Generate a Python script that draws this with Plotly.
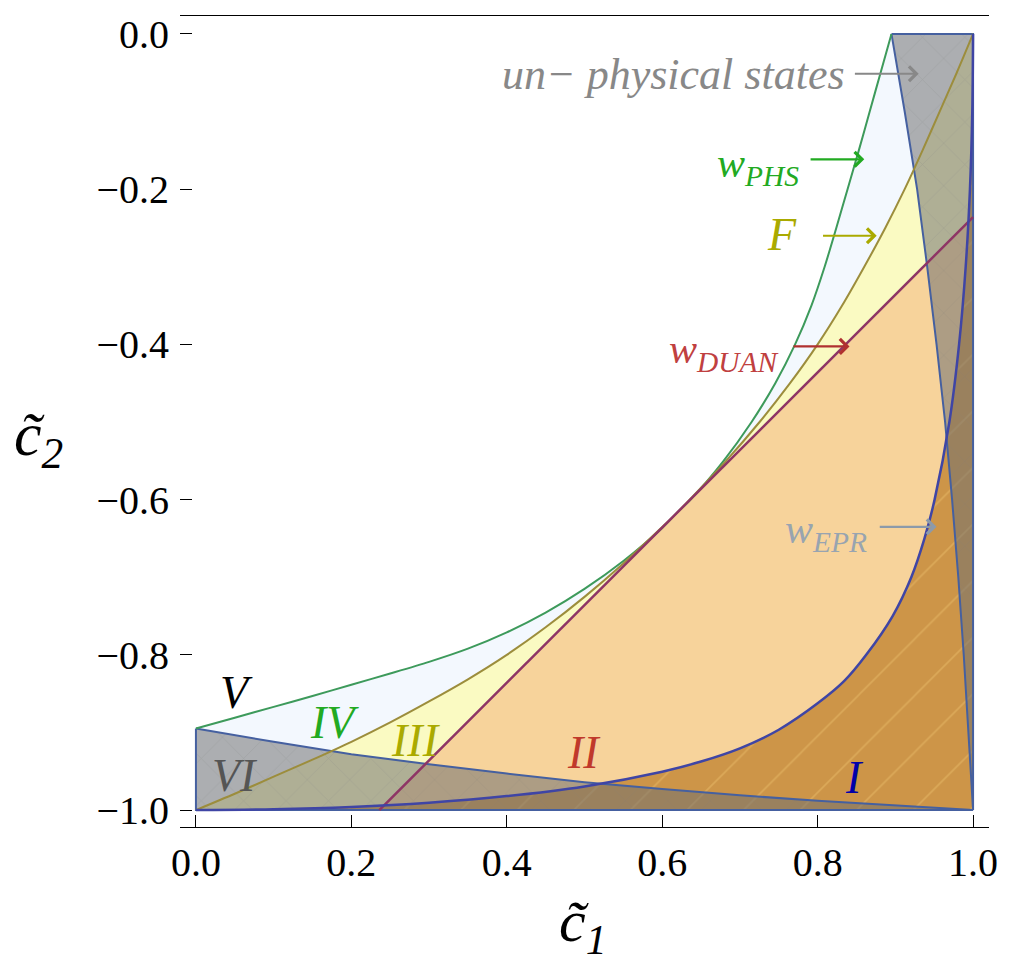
import plotly.graph_objects as go

# ---------------- data ----------------
# w_PHS boundary (green)
c1_phs = [0.000, 0.05, 0.10, 0.15, 0.20, 0.25, 0.30, 0.35, 0.40, 0.45, 0.50, 0.55, 0.60, 0.618,
          0.6365, 0.679, 0.715, 0.7455, 0.771, 0.792, 0.809, 0.824, 0.8385, 0.853, 0.867, 0.881, 0.895]
c2_phs = [-0.895, -0.881, -0.867, -0.853, -0.8385, -0.824, -0.809, -0.792, -0.771, -0.7455, -0.715, -0.679, -0.6365, -0.618,
          -0.60, -0.55, -0.50, -0.45, -0.40, -0.35, -0.30, -0.25, -0.20, -0.15, -0.10, -0.05, 0.0]

# F boundary (olive)
c1_f = [0.00, 0.05, 0.10, 0.15, 0.20, 0.25, 0.30, 0.35, 0.40, 0.45, 0.50, 0.55, 0.60, 0.618,
        0.6353, 0.6822, 0.7253, 0.7645, 0.800, 0.8315, 0.860, 0.887, 0.912, 0.935, 0.957, 0.979, 1.00]
c2_f = [-1.000, -0.979, -0.957, -0.935, -0.912, -0.887, -0.860, -0.8315, -0.800, -0.7645, -0.7253, -0.6822, -0.6353, -0.618,
        -0.60, -0.55, -0.50, -0.45, -0.40, -0.35, -0.30, -0.25, -0.20, -0.15, -0.10, -0.05, 0.0]

# w_DUAN (straight line)
c1_duan = [0.236, 1.0]
c2_duan = [-1.0, -0.236]

# w_EPR boundary (blue)
c1_epr = [0.00, 0.10, 0.20, 0.30, 0.40, 0.50, 0.60, 0.65, 0.70, 0.75, 0.80, 0.834,
          0.8625, 0.8965, 0.9205, 0.9375, 0.9505, 0.9695, 0.982, 0.9905, 0.996, 0.999, 1.0]
c2_epr = [-1.000, -0.999, -0.996, -0.9905, -0.982, -0.9695, -0.9505, -0.9375, -0.9205, -0.8965, -0.8625, -0.834,
          -0.80, -0.75, -0.70, -0.65, -0.60, -0.50, -0.40, -0.30, -0.20, -0.10, 0.0]

# un-physical boundaries
c1_unph_low = [0.00, 0.10, 0.20, 0.30, 0.40, 0.50, 0.60, 0.70, 0.80, 0.90, 1.00]
c2_unph_low = [-0.895, -0.912, -0.928, -0.941, -0.953, -0.964, -0.973, -0.981, -0.988, -0.994, -1.00]
c1_unph_high = [0.895, 0.912, 0.928, 0.941, 0.953, 0.964, 0.973, 0.981, 0.988, 0.994, 1.00]
c2_unph_high = [0.0, -0.10, -0.20, -0.30, -0.40, -0.50, -0.60, -0.70, -0.80, -0.90, -1.00]

tick_vals = [0.0, 0.2, 0.4, 0.6, 0.8, 1.0]
ytick_vals = [0.0, -0.2, -0.4, -0.6, -0.8, -1.0]

region_labels = ["I", "II", "III", "IV", "V", "VI"]
region_x = [0.848, 0.499, 0.283, 0.178, 0.0525, 0.050]
region_y = [-0.958, -0.926, -0.910, -0.887, -0.849, -0.956]
region_colors = ["#0000AA", "#C0392B", "#AAAA00", "#22AA22", "#000000", "#555555"]

# ---------------- figure ----------------
SERIF = "Liberation Serif"
fig = go.Figure()

def poly(xs, ys, fill, line=None, width=0, pattern=None):
    kw = dict(x=xs, y=ys, mode="lines", fill="toself", fillcolor=fill,
              line=dict(color=line if line else "rgba(0,0,0,0)", width=width),
              hoverinfo="skip", showlegend=False)
    if pattern:
        kw["fillpattern"] = pattern
    fig.add_trace(go.Scatter(**kw))

# region fills (painter's order)
poly(c1_phs + [1.0, 1.0, 0.0], c2_phs + [0.0, -1.0, -1.0], "#F3F8FE")
poly(c1_f + [1.0], c2_f + [-1.0], "#FAFAC2")
poly(c1_duan + [1.0], c2_duan + [-1.0], "#F7D39B")
poly(c1_epr + [1.0], c2_epr + [-1.0], "#CD9548",
     pattern=dict(shape="/", size=40, solidity=0.04, fgcolor="rgba(245,205,120,0.7)", bgcolor="#CD9548"))

# un-physical regions
gray = "rgba(112,112,112,0.55)"
pat = dict(shape="x", size=30, solidity=0.04, fgcolor="rgba(120,120,120,0.45)", bgcolor=gray)
poly(c1_unph_low + [0.0, 0.0], c2_unph_low + [-1.0, -0.895], gray, line="#4560A0", width=2, pattern=pat)
poly(c1_unph_high + [1.0, 0.895], c2_unph_high + [0.0, 0.0], gray, line="#4560A0", width=2, pattern=pat)

# boundary lines
def line(xs, ys, color, w=2, shape="spline"):
    fig.add_trace(go.Scatter(x=xs, y=ys, mode="lines",
                             line=dict(color=color, width=w, shape=shape, smoothing=0.8),
                             hoverinfo="skip", showlegend=False))

line(c1_phs, c2_phs, "#3D9A5B")
line(c1_f, c2_f, "#9C8D3C")
line(c1_duan, c2_duan, "#8E3565", 2.5, "linear")
line(c1_epr, c2_epr, "#3F45A5", 2.5)

# annotations with arrows
def arrow(x0, x1, y, color):
    fig.add_annotation(x=x1, y=y, ax=x0, ay=y, xref="x", yref="y", axref="x", ayref="y",
                       text="", showarrow=True, arrowhead=4, arrowsize=1.3, arrowwidth=2.2,
                       arrowcolor=color)

def label(x, y, text, color, size=44, xanchor="center", ref="x"):
    fig.add_annotation(x=x, y=y, xref="x" if ref == "x" else "paper",
                       yref="y" if ref == "x" else "paper", text=text, showarrow=False,
                       xanchor=xanchor, yanchor="middle",
                       font=dict(family=SERIF, size=size, color=color))

arrow(0.846, 0.930, -0.0513, "#888888")
label(0.838, -0.052, "<i>un− physical states</i>", "#888888", 44, "right")

arrow(0.789, 0.860, -0.1615, "#22AA22")
label(0.778, -0.170, "<i>w<sub>PHS</sub></i>", "#22AA22", 42, "right")

arrow(0.805, 0.876, -0.260, "#AAAA00")
label(0.754, -0.259, "<i>F</i>", "#AAAA00", 46)

arrow(0.767, 0.841, -0.4026, "#B03030")
label(0.752, -0.410, "<i>w<sub>DUAN</sub></i>", "#C04040", 42, "right")

arrow(0.878, 0.953, -0.635, "#8C9AAA")
label(0.866, -0.642, "<i>w<sub>EPR</sub></i>", "#98A4B0", 42, "right")

for t, x, y, c in zip(region_labels, region_x, region_y, region_colors):
    label(x, y, "<i>" + t + "</i>", c, 46)

# axis titles (paper coordinates)
label(-0.1747, 0.4785, "<i>c̃</i><sub><i>2</i></sub>", "#000000", 62, "center", "paper")
label(0.498, -0.122, "<i>c̃</i><sub><i>1</i></sub>", "#000000", 60, "center", "paper")

fig.update_layout(
    width=1010, height=971,
    margin=dict(l=180, r=17, t=12, b=144),
    paper_bgcolor="white", plot_bgcolor="white",
    showlegend=False,
    font=dict(family=SERIF, size=40, color="black"),
)
fig.update_xaxes(range=[-0.0205, 1.0205], tickvals=tick_vals, tickformat=".1f",
                 ticks="inside", ticklen=12, tickwidth=1.2, tickcolor="black",
                 showline=True, mirror=True, linecolor="black", linewidth=1.3,
                 showgrid=False, zeroline=False, ticklabelstandoff=0,
                 tickfont=dict(family=SERIF, size=40))
fig.update_yaxes(range=[-1.0218, 0.0231], tickvals=ytick_vals, tickformat=".1f",
                 ticks="inside", ticklen=12, tickwidth=1.2, tickcolor="black",
                 showline=False, showgrid=False, zeroline=False, ticklabelstandoff=10,
                 tickfont=dict(family=SERIF, size=40))

fig.write_html("out.html")
